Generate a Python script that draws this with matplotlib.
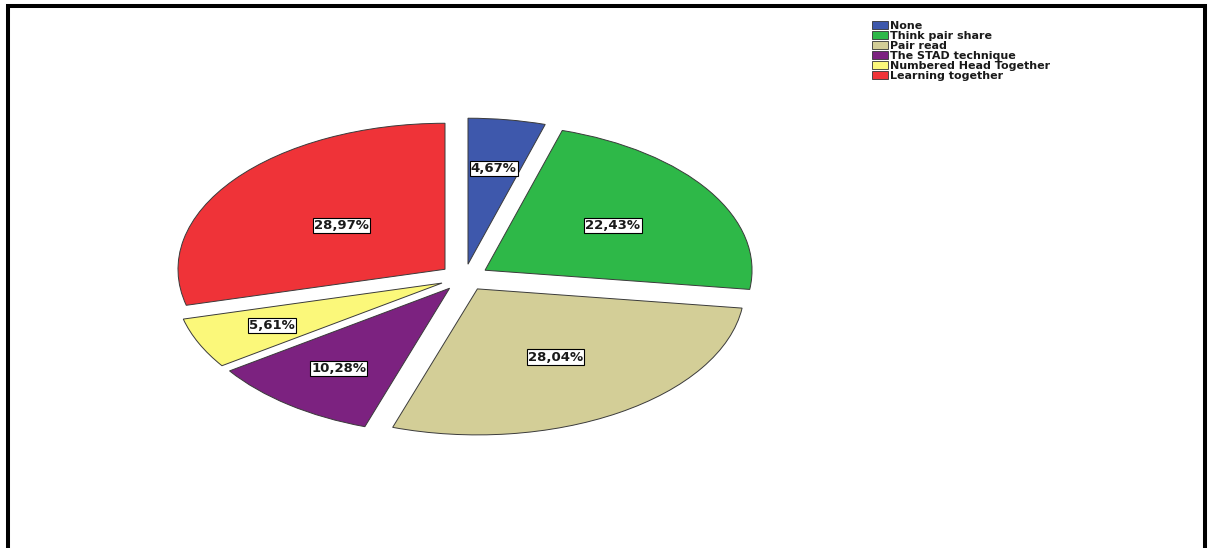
import numpy as np
import matplotlib
matplotlib.use('Agg')
import matplotlib.pyplot as plt
from matplotlib.patches import Patch
from matplotlib.lines import Line2D

categories = ["None", "Think pair share", "Pair read", "The STAD technique",
              "Numbered Head Together", "Learning together"]
percents = [4.67, 22.43, 28.04, 10.28, 5.61, 28.97]
colors = ["#3E58AC", "#2EB848", "#D3CE97", "#7C2280", "#FBF87A", "#EF3338"]
# label distance from the (exploded) wedge tip, as a fraction of the radius
label_dist = [0.66, 0.57, 0.55, 0.69, 0.70, 0.49]

W, H = 1213, 548
plt.rcParams['font.family'] = ['DejaVu Sans']
fig = plt.figure(figsize=(W / 100, H / 100), dpi=100)

cx, cy = 464.4, 277.5   # pie centre in pixels (from top-left)
a, b = 267.0, 146.0     # horizontal / vertical radius in pixels
ex = 0.092

ax = fig.add_axes([0, 0, 1, 1])
explode = [ex] * len(percents)
wedges, _ = ax.pie(percents, colors=colors, startangle=90, counterclock=False,
                   explode=explode,
                   wedgeprops=dict(edgecolor='#3a3a3a', linewidth=0.7))
ax.set_aspect('auto')
ax.set_xlim(-cx / a, (W - cx) / a)
ax.set_ylim(-(H - cy) / b, cy / b)
ax.axis('off')

for w, p, d in zip(wedges, percents, label_dist):
    mid = np.deg2rad((w.theta1 + w.theta2) / 2)
    r = ex + d
    ax.text(r * np.cos(mid), r * np.sin(mid), f"{p:.2f}%".replace('.', ','),
            ha='center', va='center', fontsize=9.5, fontweight='bold',
            color='#1a1a1a',
            bbox=dict(boxstyle='square,pad=0.08', facecolor='white',
                      edgecolor='black', linewidth=0.8))

handles = [Patch(facecolor=c, edgecolor='#333333', linewidth=0.6) for c in colors]
fig.legend(handles, categories, loc='upper left',
           bbox_to_anchor=(872 / W, 1 - 21 / H), frameon=False,
           prop=dict(size=8, weight='bold'),
           handlelength=1.4, handleheight=0.65, handletextpad=0.2,
           labelspacing=0.0, borderpad=0, borderaxespad=0,
           labelcolor='#1a1a1a')

fig.add_artist(Line2D([8 / W, 8 / W, 1205 / W, 1205 / W],
                      [0, 1 - 5.5 / H, 1 - 5.5 / H, 0],
                      transform=fig.transFigure, color='black', lw=2.9,
                      solid_joinstyle='miter', solid_capstyle='butt'))

fig.savefig('out.png', dpi=100)
